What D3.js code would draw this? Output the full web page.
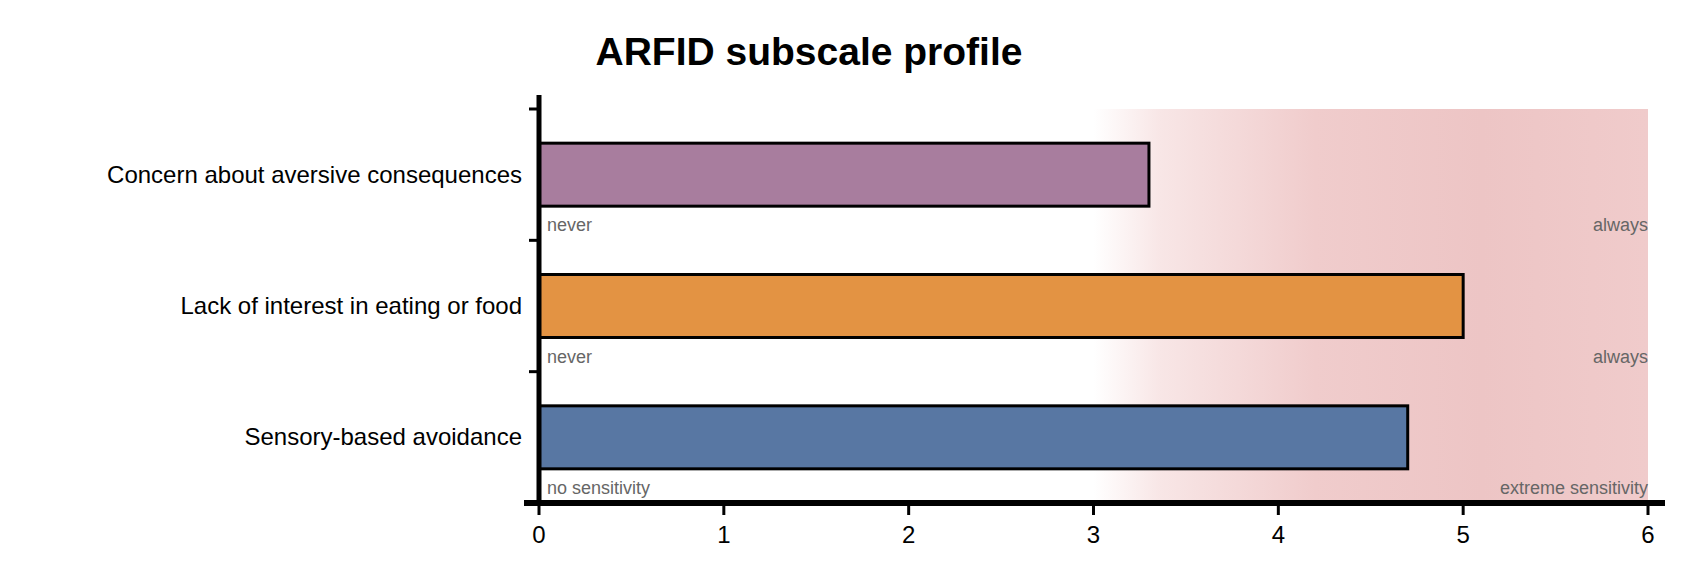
<!DOCTYPE html>
<html><head><meta charset="utf-8">
<script src="https://cdn.jsdelivr.net/npm/d3@7"></script>
<style>body{margin:0;background:#fff}svg{font-family:"Liberation Sans",Arial,sans-serif}</style>
</head><body><svg id="c" width="1698" height="574"></svg>
<script>
const categories = ["Concern about aversive consequences","Lack of interest in eating or food","Sensory-based avoidance"];
const values = [3.3, 5.0, 4.7];
const colors = ["#a87d9e","#e39343","#5877a3"];
const lowLabels = ["never","never","no sensitivity"];
const highLabels = ["always","always","extreme sensitivity"];
const xTicks = [0,1,2,3,4,5,6];
const shadeStart = 3;

const svg = d3.select("#c");
const x = d3.scaleLinear().domain([0,6]).range([539,1648]);
const y = d3.scaleBand().domain(categories).range([109,503]).paddingInner(0).paddingOuter(0);
const barH = 63;

const defs = svg.append("defs");
const g = defs.append("linearGradient").attr("id","sh").attr("x1","0").attr("x2","1");
[[0,"#ffffff"],[0.12,"#f8e6e6"],[0.4,"#f0cccc"],[0.7,"#edc5c5"],[1,"#f0cbcb"]].forEach(([o,c])=>g.append("stop").attr("offset",o).attr("stop-color",c));
svg.append("rect").attr("x",x(shadeStart)).attr("y",109).attr("width",x(6)-x(shadeStart)).attr("height",503-109).attr("fill","url(#sh)");

categories.forEach((c,i)=>{
  const cy = y(c)+y.bandwidth()/2;
  svg.append("rect").attr("x",x(0)).attr("y",cy-barH/2).attr("width",x(values[i])-x(0)).attr("height",barH)
    .attr("fill",colors[i]).attr("stroke","#000").attr("stroke-width",3);
  svg.append("text").attr("x",x(0)+8).attr("y",cy+barH/2+25).attr("font-size",18).attr("fill","#666").text(lowLabels[i]);
  svg.append("text").attr("x",x(6)).attr("y",cy+barH/2+25).attr("font-size",18).attr("fill","#666").attr("text-anchor","end").text(highLabels[i]);
  svg.append("text").attr("x",522).attr("y",cy+8).attr("font-size",24).attr("text-anchor","end").attr("fill","#000").text(c);
});

// x axis
const xa = svg.append("g").attr("transform","translate(0,503)");
xa.append("line").attr("x1",524).attr("x2",1665).attr("stroke","#000").attr("stroke-width",6);
xTicks.forEach(t=>{
  xa.append("line").attr("x1",x(t)).attr("x2",x(t)).attr("y1",0).attr("y2",12).attr("stroke","#000").attr("stroke-width",3);
  xa.append("text").attr("x",x(t)).attr("y",40).attr("text-anchor","middle").attr("font-size",24).text(t);
});
// y axis
svg.append("line").attr("x1",x(0)).attr("x2",x(0)).attr("y1",95).attr("y2",506).attr("stroke","#000").attr("stroke-width",5);
const yb = [109, ...categories.map(c=>y(c)+y.bandwidth())];
yb.slice(0,3).forEach(v=>svg.append("line").attr("x1",x(0)-10).attr("x2",x(0)).attr("y1",v).attr("y2",v).attr("stroke","#000").attr("stroke-width",3));

svg.append("text").attr("x",809).attr("y",65).attr("text-anchor","middle").attr("font-size",39).attr("font-weight","bold").text("ARFID subscale profile");
</script></body></html>
